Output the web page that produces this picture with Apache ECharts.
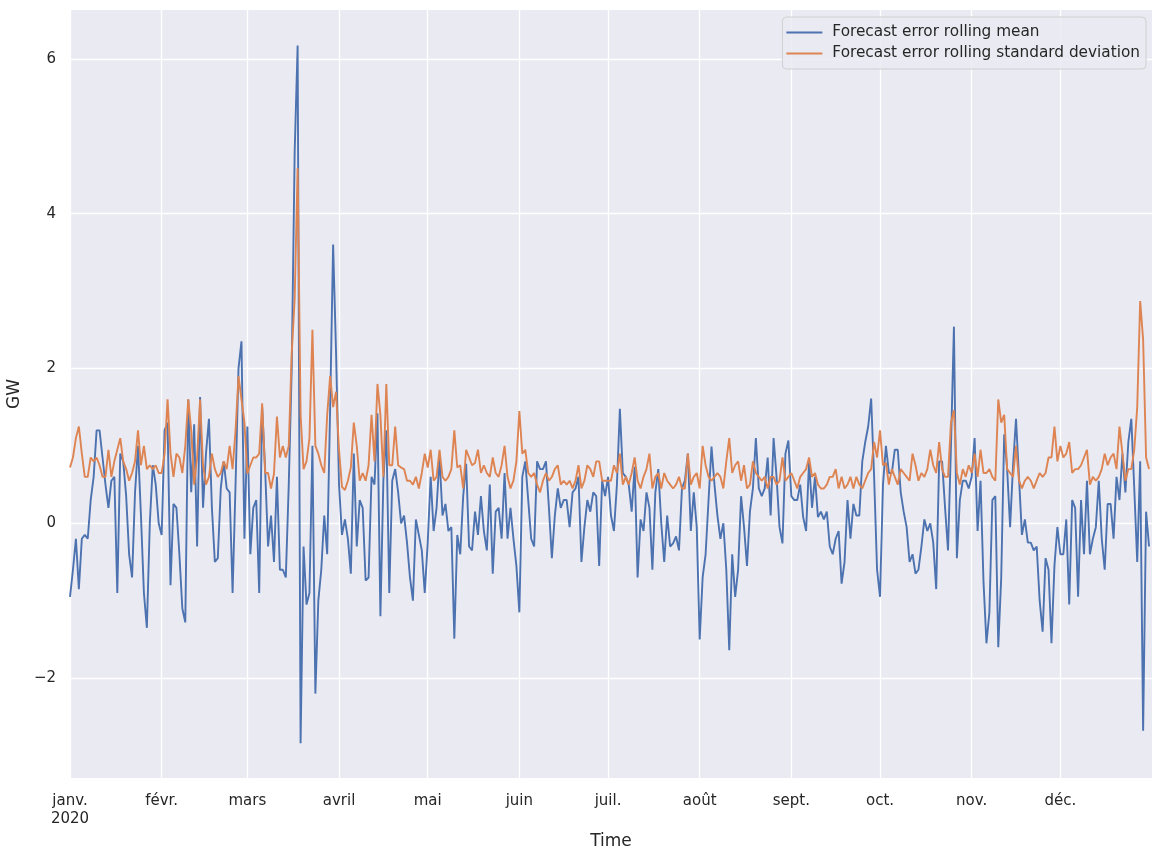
<!DOCTYPE html>
<html>
<head>
<meta charset="utf-8">
<script src="https://cdn.jsdelivr.net/npm/echarts@6/dist/echarts.min.js"></script>
<style>html,body{margin:0;padding:0;background:#fff}#c{width:1164px;height:859px}</style>
</head>
<body>
<div id="c"></div>
<script>
// Tick labels (month starts, French locale)
const monthLabels = ['janv.\n2020','févr.','mars','avril','mai','juin','juil.','août','sept.','oct.','nov.','déc.'];
const seriesNames = ['Forecast error rolling mean','Forecast error rolling standard deviation'];

// Forecast error rolling mean (GW), one value per day
const meanJan = [-0.95,-0.6,-0.2,-0.85,-0.2,-0.15,-0.2,0.3,0.6,1.2,1.2,0.85,0.5,0.2,0.55,0.6,-0.9,0.9,0.8,0.35,-0.4,-0.7,0.4,1.0,0.1,-0.9,-1.35,0.0,0.75,0.5,0.0];
const meanFeb = [-0.15,1.2,1.3,-0.8,0.25,0.2,-0.4,-1.1,-1.28,1.6,0.4,1.28,-0.3,1.63,0.2,0.9,1.35,0.2,-0.5,-0.45,0.45,0.8,0.45,0.4,-0.9,0.5,2.0,2.35,-0.2];
const meanMar = [1.25,-0.4,0.2,0.3,-0.9,1.5,0.7,-0.3,0.1,-0.5,0.6,-0.6,-0.6,-0.7,0.5,2.0,4.8,6.17,-2.84,-0.3,-1.05,-0.9,1.0,-2.2,-1.0,-0.6,0.1,-0.4,1.5,3.6,2.2];
const meanApr = [0.5,-0.15,0.05,-0.2,-0.65,0.9,-0.3,0.3,0.2,-0.74,-0.7,0.6,0.5,1.42,-1.2,0.55,1.2,-0.9,0.55,0.7,0.4,0.0,0.1,-0.25,-0.7,-1.0,0.05,-0.15,-0.35,-0.9];
const meanMay = [-0.25,0.6,-0.1,0.2,0.85,0.1,0.25,-0.1,-0.05,-1.49,-0.15,-0.4,0.35,0.77,-0.3,-0.35,0.15,-0.15,0.35,-0.1,-0.35,0.5,-0.65,0.15,0.2,-0.2,0.65,-0.2,0.2,-0.2,-0.55];
const meanJun = [-1.15,0.6,0.8,0.3,-0.2,-0.3,0.8,0.7,0.7,0.8,0.2,-0.45,0.1,0.45,0.2,0.3,0.3,-0.05,0.4,0.45,0.6,-0.5,-0.05,0.3,0.15,0.4,0.35,-0.55,0.55,0.35];
const meanJul = [0.6,0.1,-0.1,0.5,1.48,0.65,0.6,0.5,0.15,0.73,-0.7,0.05,-0.1,0.4,0.2,-0.6,0.4,0.7,0.0,-0.5,0.1,-0.3,-0.26,-0.17,-0.35,0.45,0.55,0.9,-0.1,0.4,-0.05];
const meanAug = [-1.5,-0.7,-0.4,0.3,0.99,0.5,0.1,-0.2,0.0,-0.6,-1.64,-0.4,-0.95,-0.6,0.35,-0.05,-0.55,0.15,0.45,1.1,0.45,0.35,0.45,0.85,0.1,1.1,0.6,-0.05,-0.26,0.9,1.07];
const meanSep = [0.35,0.3,0.3,0.5,0.08,-0.1,0.8,0.2,0.6,0.08,0.15,0.05,0.15,-0.3,-0.4,-0.2,-0.1,-0.78,-0.5,0.3,-0.2,0.25,0.1,0.1,0.8,1.05,1.25,1.61,0.6,-0.6];
const meanOct = [-0.95,0.5,1.0,0.65,0.65,0.95,0.95,0.4,0.15,-0.05,-0.5,-0.4,-0.65,-0.6,-0.3,0.05,-0.1,0.0,-0.25,-0.85,0.8,0.8,0.2,-0.35,1.0,2.54,-0.45,0.3,0.55,0.55,0.45];
const meanNov = [0.6,1.1,-0.1,0.55,-0.75,-1.55,-1.15,0.3,0.35,-1.6,-0.7,1.15,0.7,-0.05,0.75,1.35,0.6,-0.15,0.05,-0.25,-0.25,-0.35,-0.3,-1.0,-1.4,-0.45,-0.6,-1.55,-0.55,-0.05];
const meanDec = [-0.4,-0.4,0.05,-1.05,0.3,0.2,-0.95,0.3,-0.4,0.55,-0.4,-0.2,-0.05,0.55,-0.2,-0.6,0.25,0.25,-0.2,0.6,0.3,0.9,0.4,1.05,1.35,0.45,-0.5,0.8,-2.68,0.15,-0.3];

// Forecast error rolling standard deviation (GW), one value per day
const sdJan = [0.72,0.85,1.1,1.25,0.9,0.6,0.6,0.85,0.8,0.85,0.75,0.6,0.6,0.95,0.6,0.8,0.95,1.1,0.8,0.7,0.55,0.65,0.8,1.2,0.75,1.0,0.7,0.75,0.7,0.75,0.65];
const sdFeb = [0.65,0.9,1.6,0.9,0.6,0.9,0.85,0.65,1.0,1.6,1.2,0.5,0.85,1.6,0.75,0.5,0.6,0.9,0.7,0.6,0.65,0.8,0.7,1.0,0.7,1.2,1.9,1.6,1.3];
const sdMar = [0.64,0.75,0.85,0.85,0.9,1.55,0.65,0.65,0.45,0.64,1.38,0.85,1.0,0.85,1.0,2.2,2.9,4.59,1.4,0.7,0.8,1.1,2.5,1.0,0.9,0.75,0.65,1.4,1.9,1.5,1.7];
const sdApr = [0.95,0.47,0.43,0.55,0.72,1.3,1.0,0.55,0.65,0.55,0.75,1.4,0.8,1.8,1.4,0.6,1.8,0.75,0.75,1.25,0.75,0.72,0.7,0.55,0.55,0.5,0.6,0.45,0.65,0.9];
const sdMay = [0.72,0.95,0.55,0.6,0.95,0.6,0.55,0.6,0.7,1.2,0.72,0.75,0.45,0.95,0.85,0.75,0.78,0.95,0.65,0.75,0.65,0.6,0.85,0.65,0.6,0.75,1.0,0.6,0.45,0.55,0.8];
const sdJun = [1.45,0.9,0.95,0.65,0.6,0.65,0.5,0.4,0.55,0.65,0.55,0.6,0.7,0.75,0.5,0.55,0.5,0.55,0.45,0.55,0.75,0.45,0.55,0.75,0.7,0.6,0.8,0.8,0.55,0.55];
const sdJul = [0.55,0.55,0.75,0.65,0.9,0.5,0.6,0.5,0.65,0.85,0.55,0.45,0.6,0.7,0.9,0.45,0.6,0.65,0.45,0.65,0.55,0.5,0.45,0.5,0.6,0.45,0.45,0.9,0.5,0.6,0.65];
const sdAug = [0.45,1.0,0.75,0.6,0.55,0.6,0.65,0.6,0.45,0.8,1.1,0.65,0.75,0.8,0.55,0.75,0.45,0.5,0.8,0.65,0.6,0.55,0.6,0.45,0.6,0.6,0.5,0.55,0.85,0.55,0.6];
const sdSep = [0.65,0.55,0.45,0.6,0.65,0.7,0.85,0.6,0.65,0.5,0.45,0.45,0.5,0.6,0.6,0.7,0.45,0.6,0.45,0.5,0.6,0.45,0.6,0.5,0.45,0.55,0.65,0.7,1.05,0.85];
const sdOct = [1.2,0.75,0.78,0.5,0.7,0.6,0.5,0.7,0.65,0.6,0.55,0.9,0.75,0.55,0.65,0.6,0.7,0.95,0.75,0.65,1.05,0.7,0.6,0.6,1.3,1.46,0.65,0.5,0.7,0.6,0.75];
const sdNov = [0.65,0.9,0.6,0.95,0.65,0.65,0.7,0.6,0.55,1.6,1.3,1.4,0.7,0.65,0.6,1.0,0.55,0.45,0.55,0.6,0.55,0.45,0.55,0.65,0.6,0.65,0.85,0.85,1.25,0.8];
const sdDec = [1.0,0.85,0.9,1.05,0.65,0.7,0.7,0.75,0.85,0.95,0.5,0.6,0.55,0.6,0.7,0.9,0.75,0.85,0.9,0.7,1.25,0.9,0.55,0.7,0.7,0.95,1.5,2.87,2.37,0.85,0.7];

const meanAll = [].concat(meanJan,meanFeb,meanMar,meanApr,meanMay,meanJun,meanJul,meanAug,meanSep,meanOct,meanNov,meanDec);
const sdAll = [].concat(sdJan,sdFeb,sdMar,sdApr,sdMay,sdJun,sdJul,sdAug,sdSep,sdOct,sdNov,sdDec);

// Daily categories 2020-01-01 .. 2021-01-01 (last one closes the axis)
const days = [];
for (let t = Date.UTC(2020,0,1); t <= Date.UTC(2021,0,1); t += 86400000) {
  days.push(new Date(t).toISOString().slice(0,10));
}
const isMonthStart = (i, v) => v.slice(0,4) === '2020' && v.slice(8,10) === '01';

const font = 'DejaVu Sans';
const txt = '#262626';
const chart = echarts.init(document.getElementById('c'), null, {renderer:'canvas'});
chart.setOption({
  animation: false,
  backgroundColor: '#ffffff',
  textStyle: {fontFamily: font, color: txt},
  grid: {left: 70, right: 12, top: 10, bottom: 81, show: true, backgroundColor: '#eaeaf2', borderWidth: 0,
         containLabel: false, outerBoundsMode: 'none'},
  legend: {
    right: 18, top: 17, orient: 'vertical',
    icon: 'rect', itemWidth: 36, itemHeight: 2, itemGap: 4,
    padding: [7, 6, 7, 4],
    backgroundColor: 'rgba(234,234,242,0.85)', borderColor: '#d0d0d0', borderWidth: 1, borderRadius: 4,
    textStyle: {fontFamily: font, fontSize: 15.3, color: txt, lineHeight: 17, padding: [0,0,0,5]},
    data: seriesNames
  },
  xAxis: {
    type: 'category', data: days, boundaryGap: false,
    name: 'Time', nameLocation: 'middle', nameGap: 55,
    nameTextStyle: {fontFamily: font, fontSize: 17, color: txt},
    axisLine: {show: false}, axisTick: {show: false},
    axisLabel: {
      interval: isMonthStart, margin: 14, fontFamily: font, fontSize: 15, color: txt, lineHeight: 18,
      formatter: v => monthLabels[parseInt(v.slice(5,7),10) - 1]
    },
    splitLine: {show: true, interval: isMonthStart, lineStyle: {color: '#ffffff', width: 1.3}}
  },
  yAxis: {
    type: 'value', min: -3.29, max: 6.63, splitNumber: 5,
    name: 'GW', nameLocation: 'middle', nameGap: 42, nameRotate: 90,
    nameTextStyle: {fontFamily: font, fontSize: 17, color: txt},
    axisLine: {show: false}, axisTick: {show: false},
    axisLabel: {margin: 14, fontFamily: font, fontSize: 15, color: txt, showMinLabel: false, showMaxLabel: false,
      formatter: v => String(v).replace('-', '\u2212')},
    splitLine: {show: true, showMinLine: false, showMaxLine: false, lineStyle: {color: '#ffffff', width: 1.3}}
  },
  series: [
    {name: seriesNames[0], type: 'line', data: meanAll, symbol: 'none', lineStyle: {color: '#4c72b0', width: 1.9}, itemStyle: {color: '#4c72b0'}},
    {name: seriesNames[1], type: 'line', data: sdAll, symbol: 'none', lineStyle: {color: '#dd8452', width: 1.9}, itemStyle: {color: '#dd8452'}}
  ]
});
</script>
</body>
</html>
